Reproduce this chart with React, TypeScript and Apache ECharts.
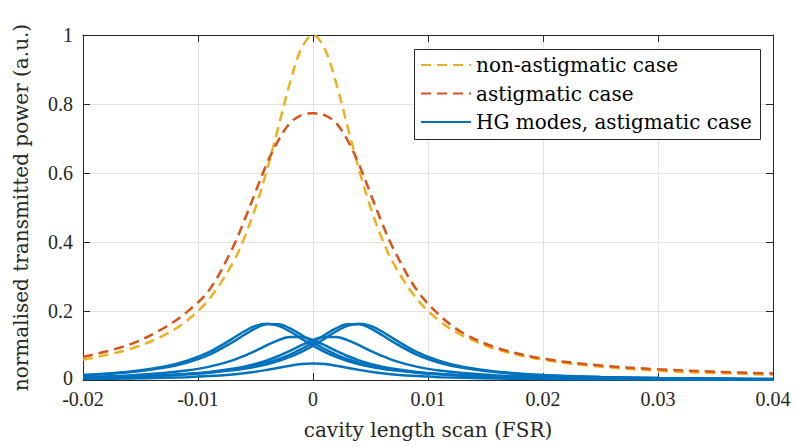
import React, { useEffect, useRef } from 'react';
import * as echarts from 'echarts';

const xs = [-0.02, -0.016, -0.013, -0.011, -0.009, -0.007, -0.006, -0.005, -0.004, -0.003, -0.002, -0.001, 0, 0.001, 0.002, 0.003, 0.004, 0.005, 0.006, 0.007, 0.009, 0.011, 0.013, 0.016, 0.02, 0.025, 0.03, 0.035, 0.04];

const nonAstig = [0.0588, 0.089, 0.1289, 0.1712, 0.2358, 0.3378, 0.4098, 0.5, 0.6098, 0.7353, 0.8621, 0.9615, 1, 0.9615, 0.8621, 0.7353, 0.6098, 0.5, 0.4098, 0.3378, 0.2358, 0.1712, 0.1289, 0.089, 0.0588, 0.0385, 0.027, 0.02, 0.0154];

const astig = [0.067, 0.102, 0.15, 0.196, 0.262, 0.382, 0.46, 0.545, 0.628, 0.695, 0.745, 0.768, 0.773, 0.768, 0.745, 0.695, 0.625, 0.54, 0.455, 0.38, 0.262, 0.188, 0.137, 0.093, 0.062, 0.042, 0.031, 0.024, 0.019];

const hg1 = [0.0145, 0.0241, 0.0384, 0.0551, 0.0815, 0.1199, 0.1405, 0.1567, 0.163, 0.1567, 0.1405, 0.1199, 0.0994, 0.0815, 0.0668, 0.0551, 0.0458, 0.0384, 0.0326, 0.0279, 0.021, 0.0163, 0.013, 0.0096, 0.0068, 0.0047, 0.0035, 0.0026, 0.0021];
const hg2 = [0.0137, 0.0225, 0.0354, 0.0502, 0.0738, 0.1094, 0.1304, 0.1495, 0.1614, 0.1614, 0.1495, 0.1304, 0.1094, 0.0901, 0.0738, 0.0606, 0.0502, 0.0419, 0.0354, 0.0301, 0.0225, 0.0173, 0.0137, 0.0101, 0.0071, 0.0049, 0.0036, 0.0027, 0.0021];
const hg3 = [0.0071, 0.0101, 0.0137, 0.0173, 0.0225, 0.0301, 0.0354, 0.0419, 0.0502, 0.0606, 0.0738, 0.0901, 0.1094, 0.1304, 0.1495, 0.1614, 0.1614, 0.1495, 0.1304, 0.1094, 0.0738, 0.0502, 0.0354, 0.0225, 0.0137, 0.0084, 0.0056, 0.004, 0.003];
const hg4 = [0.0068, 0.0096, 0.013, 0.0163, 0.021, 0.0279, 0.0326, 0.0384, 0.0458, 0.0551, 0.0668, 0.0815, 0.0994, 0.1199, 0.1405, 0.1567, 0.163, 0.1567, 0.1405, 0.1199, 0.0815, 0.0551, 0.0384, 0.0241, 0.0145, 0.0087, 0.0058, 0.0041, 0.0031];
const hg5 = [0.0086, 0.0134, 0.02, 0.0273, 0.0388, 0.057, 0.0696, 0.0846, 0.1008, 0.1156, 0.1248, 0.1248, 0.1156, 0.1008, 0.0846, 0.0696, 0.057, 0.0468, 0.0388, 0.0324, 0.0233, 0.0174, 0.0134, 0.0095, 0.0065, 0.0043, 0.0031, 0.0023, 0.0018];
const hg6 = [0.0065, 0.0095, 0.0134, 0.0174, 0.0233, 0.0324, 0.0388, 0.0468, 0.057, 0.0696, 0.0846, 0.1008, 0.1156, 0.1248, 0.1248, 0.1156, 0.1008, 0.0846, 0.0696, 0.057, 0.0388, 0.0273, 0.02, 0.0134, 0.0086, 0.0055, 0.0038, 0.0027, 0.0021];
const hg7 = [0.0028, 0.0043, 0.0062, 0.0082, 0.0113, 0.0162, 0.0197, 0.024, 0.0293, 0.0353, 0.0414, 0.0462, 0.048, 0.0462, 0.0414, 0.0353, 0.0293, 0.024, 0.0197, 0.0162, 0.0113, 0.0082, 0.0062, 0.0043, 0.0028, 0.0018, 0.0013, 0.001, 0.0007];
const hgModes = [hg1, hg2, hg3, hg4, hg5, hg6, hg7];

const xTicks = { min: -0.02, max: 0.04, interval: 0.01 };
const yTicks = { min: 0, max: 1, interval: 0.2 };

const names = ['non-astigmatic case', 'astigmatic case', 'HG modes, astigmatic case'];
const colors = ['#EDB120', '#D95319', '#0072BD'];

const pairs = (ys: number[]) => xs.map((x, i) => [x, ys[i]]);

const fmt = (v: number) => {
  const r = Math.round(v * 100) / 100;
  if (Math.abs(r) < 1e-9) return '0';
  return String(r);
};

export default function App() {
  const ref = useRef<HTMLDivElement>(null);
  useEffect(() => {
    document.body.style.margin = '0';
    const chart = echarts.init(ref.current!, null, { renderer: 'svg' });
    const axisColor = '#262626';
    const tickFont = { fontFamily: 'Liberation Serif', fontSize: 20, color: axisColor, lineHeight: 16 };
    const titleFont = { fontFamily: 'DejaVu Serif', fontSize: 20, color: axisColor };
    const series: any[] = [
      {
        name: names[0], type: 'line', data: pairs(nonAstig), smooth: 0.35, symbol: 'none', showSymbol: false,
        lineStyle: { color: colors[0], width: 2.5, type: [10, 6] }, itemStyle: { color: colors[0] }, z: 3,
      },
      {
        name: names[1], type: 'line', data: pairs(astig), smooth: 0.35, symbol: 'none', showSymbol: false,
        lineStyle: { color: colors[1], width: 2.5, type: [10, 6] }, itemStyle: { color: colors[1] }, z: 4,
      },
      ...hgModes.map((m) => ({
        name: names[2], type: 'line', data: pairs(m), smooth: 0.35, symbol: 'none', showSymbol: false,
        lineStyle: { color: colors[2], width: 2.5 }, itemStyle: { color: colors[2] }, z: 5,
      })),
    ];
    chart.setOption({
      animation: false,
      backgroundColor: '#ffffff',
      grid: { left: 83, right: 22, top: 35, bottom: 67, show: false },
      legend: {
        data: names,
        orient: 'vertical',
        left: 420,
        top: 55,
        padding: 0,
        itemWidth: 50,
        itemHeight: 20,
        itemGap: 8.5,
        selectedMode: false,
        itemStyle: { opacity: 0 },
        textStyle: { fontFamily: 'DejaVu Serif', fontSize: 20, color: '#000', lineHeight: 20 },
      },
      graphic: [
        {
          type: 'rect', left: 414, top: 49, z: 1,
          shape: { width: 346, height: 90 },
          style: { fill: '#ffffff', stroke: axisColor, lineWidth: 1 },
        },
      ],
      xAxis: [
        {
          type: 'value', ...xTicks, position: 'bottom',
          axisLine: { onZero: false, lineStyle: { color: axisColor, width: 1 } },
          axisTick: { inside: true, length: 7, lineStyle: { color: axisColor } },
          axisLabel: { ...tickFont, margin: 11, formatter: fmt },
          splitLine: { show: true, lineStyle: { color: '#e2e2e2', width: 1 } },
          name: 'cavity length scan (FSR)', nameLocation: 'middle', nameGap: 40,
          nameTextStyle: titleFont,
        },
        {
          type: 'value', ...xTicks, position: 'top',
          axisLine: { onZero: false, lineStyle: { color: axisColor, width: 1 } },
          axisTick: { inside: true, length: 7, lineStyle: { color: axisColor } },
          axisLabel: { show: false }, splitLine: { show: false },
        },
      ],
      yAxis: [
        {
          type: 'value', ...yTicks, position: 'left',
          axisLine: { show: true, onZero: false, lineStyle: { color: axisColor, width: 1 } },
          axisTick: { show: true, inside: true, length: 7, lineStyle: { color: axisColor } },
          axisLabel: {
            ...tickFont, margin: 10,
            formatter: (v: number) => (Math.abs(v) < 1e-9 ? '{z|0}' : fmt(v)),
            rich: { z: { fontFamily: 'Liberation Serif', fontSize: 20, color: axisColor, lineHeight: 16, padding: [0, 0, 5, 0] } },
          },
          splitLine: { show: true, lineStyle: { color: '#e2e2e2', width: 1 } },
          name: 'normalised transmitted power (a.u.)', nameLocation: 'middle', nameGap: 52,
          nameTextStyle: titleFont,
        },
        {
          type: 'value', ...yTicks, position: 'right',
          axisLine: { show: true, onZero: false, lineStyle: { color: axisColor, width: 1 } },
          axisTick: { show: true, inside: true, length: 7, lineStyle: { color: axisColor } },
          axisLabel: { show: false }, splitLine: { show: false },
        },
      ],
      series,
    });
    return () => chart.dispose();
  }, []);
  return <div ref={ref} style={{ width: 795, height: 447 }} />;
}
